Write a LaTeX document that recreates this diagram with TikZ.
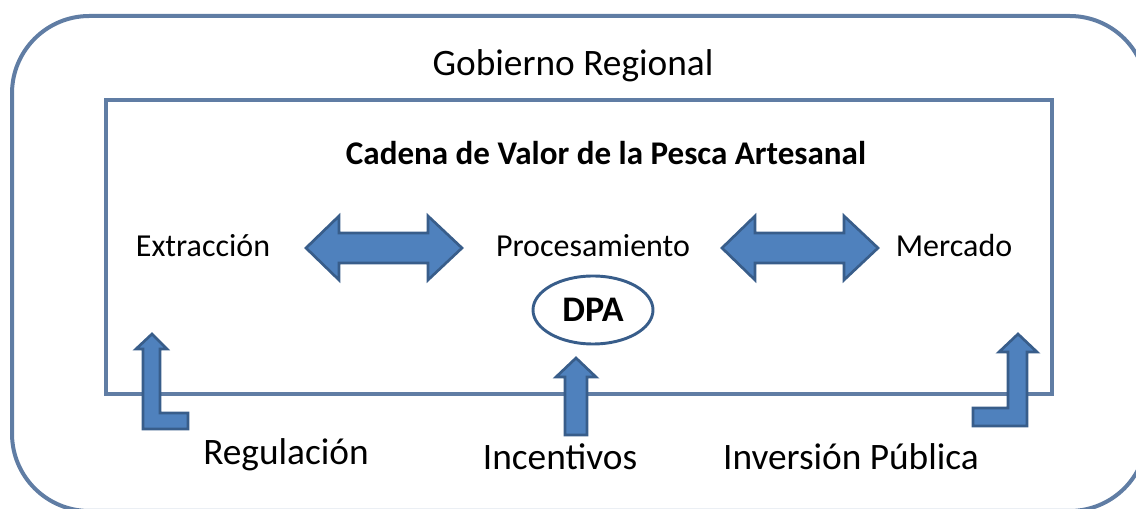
\documentclass[tikz,border=0pt]{standalone}
\usepackage{fontspec}
\setmainfont{Carlito}
\usepackage{xcolor}
\usetikzlibrary{shapes.geometric}
\definecolor{framecol}{RGB}{96,125,164}
\definecolor{arrowfill}{RGB}{79,129,189}
\definecolor{arrowedge}{RGB}{56,93,138}

\begin{document}
\begin{tikzpicture}[x=0.75pt, y=-0.75pt,
    frameline/.style={draw=framecol, line width=2.4pt},
    blockarrow/.style={fill=arrowfill, draw=arrowedge, line width=2pt, line join=miter},
    lbl/.style={inner sep=0pt, font=\fontsize{24}{28}\selectfont},
    biglbl/.style={inner sep=0pt, font=\fontsize{28}{32}\selectfont}]
    \useasboundingbox (0,0) rectangle (1136,509);

    % frames
    \draw[frameline, line width=3pt, rounded corners=58pt] (12,16) rectangle (1147,511);
    \draw[frameline] (106,100) rectangle (1052,394);

    % texts
    \node[biglbl] (gob) at (573,66) {Gobierno Regional};
    \node[lbl, font=\fontsize{24.8}{29}\selectfont\bfseries] (cadena) at (606,153) {Cadena de Valor de la Pesca Artesanal};
    \node[lbl] (extr) at (203,246) {Extracción};
    \node[lbl] (proc) at (593,246) {Procesamiento};
    \node[lbl] (merc) at (954,246) {Mercado};
    \node[ellipse, draw=arrowedge, line width=2.2pt, minimum width=90pt, minimum height=51pt, inner sep=0pt,
          font=\fontsize{27}{31}\selectfont\bfseries] (dpa) at (593,310) {DPA};

    \node[biglbl] (regul) at (286,455) {Regulación};
    \node[biglbl] (incent) at (560,457) {Incentivos};
    \node[biglbl] (inver) at (851,457) {Inversión Pública};

    % double arrows
    \draw[blockarrow] (306,248) -- (339,216) -- (339,233) -- (428,233) -- (428,216) -- (462,248)
        -- (428,280) -- (428,263) -- (339,263) -- (339,280) -- cycle;
    \draw[blockarrow] (722,248) -- (755,216) -- (755,233) -- (844,233) -- (844,216) -- (878,248)
        -- (844,280) -- (844,263) -- (755,263) -- (755,280) -- cycle;

    % up arrows
    \draw[blockarrow] (152,334) -- (167,349) -- (160,349) -- (160,413) -- (188,413) -- (188,429)
        -- (143,429) -- (143,349) -- (136,349) -- cycle;
    \draw[blockarrow] (576,358) -- (596,377) -- (587,377) -- (587,435) -- (565,435) -- (565,377)
        -- (556,377) -- cycle;
    \draw[blockarrow] (1018,334) -- (1037,352) -- (1027,352) -- (1027,426) -- (973,426) -- (973,408)
        -- (1008,408) -- (1008,352) -- (999,352) -- cycle;
\end{tikzpicture}
\end{document}
